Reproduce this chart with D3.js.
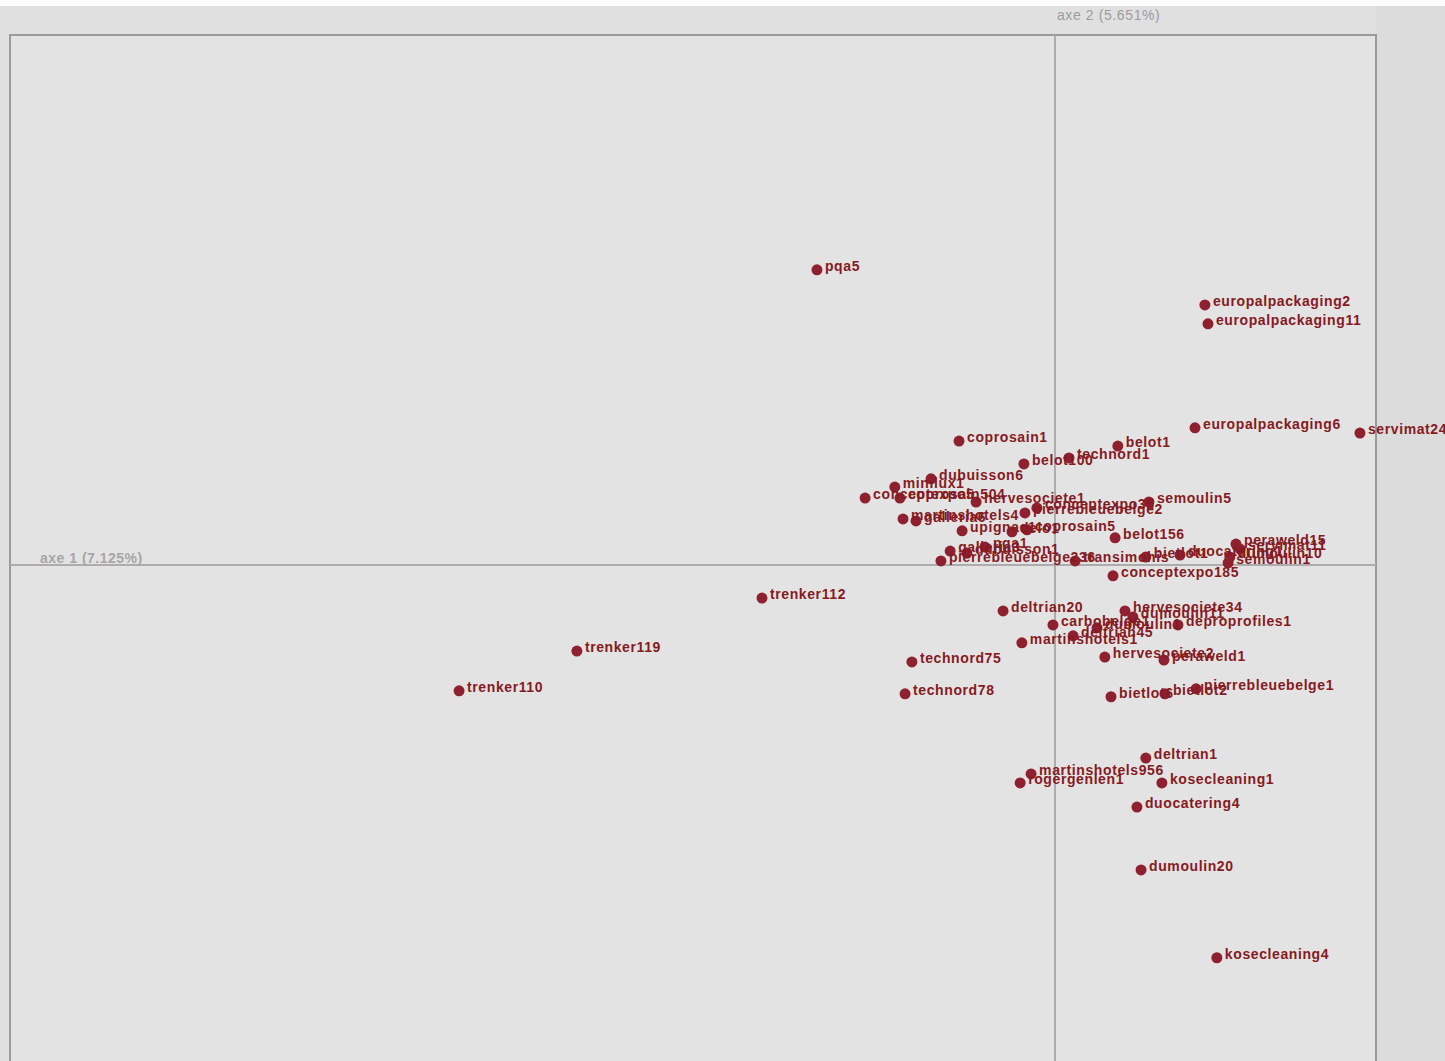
<!DOCTYPE html>
<html>
<head>
<meta charset="utf-8">
<script src="https://cdn.jsdelivr.net/npm/d3@7"></script>
<style>
  body { margin: 0; background: #e2e2e2; overflow: hidden; }
  svg { display: block; }
</style>
</head>
<body>
<svg id="chart" width="1445" height="1061"></svg>
<script>
// Individuals on the first factorial plane
var names = [
  "pqa5", "europalpackaging2", "europalpackaging11", "europalpackaging6", "servimat24",
  "coprosain1", "belot1", "technord1", "belot100", "dubuisson6",
  "minilux1", "conceptexpo5", "coprosain504", "hervesociete1", "martinshotels4",
  "galleria6", "pierrebleuebelge2", "conceptexpo35", "semoulin5", "upignac1",
  "delo1", "coprosain5", "belot156", "pqa1", "galleria3",
  "dubuisson1", "pierrebleuebelge236", "transimohis", "bietlot1", "duocatering1",
  "peraweld15", "servimat11", "dumoulin10", "semoulin1", "conceptexpo185",
  "trenker112", "trenker119", "trenker110", "deltrian20", "hervesociete34",
  "dumoulin11", "carbobelge1", "dumoulin1", "deproprofiles1", "deltrian45",
  "martinshotels1", "hervesociete2", "peraweld1", "technord75", "technord78",
  "bietlot6", "bietlot2", "pierrebleuebelge1", "deltrian1", "martinshotels956",
  "rogergenlen1", "kosecleaning1", "duocatering4", "dumoulin20", "kosecleaning4"
];

var axe1 = [
  -0.697, 0.439, 0.448, 0.410, 0.893,
  -0.281, 0.184, 0.041, -0.091, -0.363,
  -0.469, -0.556, -0.454, -0.231, -0.445,
  -0.407, -0.088, -0.053, 0.275, -0.272,
  -0.126, -0.082, 0.176, -0.205, -0.307,
  -0.258, -0.334, 0.059, 0.266, 0.366,
  0.530, 0.542, 0.512, 0.507, 0.170,
  -0.858, -1.400, -1.745, -0.152, 0.205,
  0.228, -0.006, 0.123, 0.360, 0.053,
  -0.097, 0.146, 0.319, -0.419, -0.439,
  0.164, 0.322, 0.413, 0.266, -0.070,
  -0.102, 0.313, 0.240, 0.252, 0.474
];

var axe2 = [
  0.891, 0.785, 0.728, 0.414, 0.398,
  0.374, 0.359, 0.323, 0.305, 0.260,
  0.235, 0.202, 0.202, 0.190, 0.139,
  0.133, 0.157, 0.172, 0.190, 0.103,
  0.100, 0.106, 0.082, 0.054, 0.042,
  0.036, 0.012, 0.012, 0.024, 0.030,
  0.063, 0.048, 0.024, 0.006, -0.033,
  -0.100, -0.260, -0.380, -0.139, -0.139,
  -0.157, -0.181, -0.190, -0.181, -0.214,
  -0.235, -0.278, -0.287, -0.293, -0.389,
  -0.398, -0.389, -0.374, -0.583, -0.631,
  -0.658, -0.658, -0.731, -0.921, -1.186
];

var axisLabels = ["axe 1 (7.125%)", "axe 2 (5.651%)"];

var svg = d3.select("#chart");
var W = 1445, H = 1061;
var plotLeft = 10, plotRight = 1376, plotTop = 35, plotBottom = 1128;

var x = d3.scaleLinear().domain([-3.06, 0.94]).range([plotLeft, plotRight]);
var y = d3.scaleLinear().domain([-1.7, 1.6]).range([plotBottom, plotTop]);

// Backgrounds
svg.append("rect").attr("width", W).attr("height", H).attr("fill", "#e0e0e0");
svg.append("rect").attr("x", plotRight).attr("y", 6).attr("width", W - plotRight).attr("height", H)
  .attr("fill", "#dcdcdc");
svg.append("rect").attr("width", W).attr("height", 6).attr("fill", "#fbfbfb");
svg.append("rect").attr("x", plotLeft).attr("y", plotTop)
  .attr("width", plotRight - plotLeft).attr("height", plotBottom - plotTop)
  .attr("fill", "#e3e3e3").attr("stroke", "#9a9a9a").attr("stroke-width", 2);

// Axes through origin
svg.append("line")
  .attr("x1", plotLeft).attr("x2", plotRight).attr("y1", y(0)).attr("y2", y(0))
  .attr("stroke", "#acacac").attr("stroke-width", 2);
svg.append("line")
  .attr("x1", x(0)).attr("x2", x(0)).attr("y1", plotTop).attr("y2", plotBottom)
  .attr("stroke", "#acacac").attr("stroke-width", 2);

svg.append("text")
  .attr("x", plotLeft + 30).attr("y", y(0) - 2)
  .attr("font-family", "Liberation Sans, Arial, sans-serif")
  .attr("font-size", 14).attr("font-weight", "bold")
  .attr("letter-spacing", 0.5)
  .attr("fill", "#a6a6a6")
  .text(axisLabels[0]);

svg.append("text")
  .attr("x", x(0) + 2).attr("y", 20)
  .attr("font-family", "Liberation Sans, Arial, sans-serif")
  .attr("font-size", 14)
  .attr("letter-spacing", 0.6)
  .attr("fill", "#9c9c9c")
  .text(axisLabels[1]);

var points = names.map((n, i) => ({ name: n, a1: axe1[i], a2: axe2[i] }));

// Dots
svg.selectAll("circle.pt")
  .data(points)
  .enter().append("circle")
  .attr("class", "pt")
  .attr("cx", d => x(d.a1))
  .attr("cy", d => y(d.a2))
  .attr("r", 5.5)
  .attr("fill", "#8e2030");

// Labels
svg.selectAll("text.lbl")
  .data(points)
  .enter().append("text")
  .attr("class", "lbl")
  .attr("x", d => x(d.a1) + 8)
  .attr("y", d => y(d.a2) + 1)
  .attr("font-family", "Liberation Sans, Arial, sans-serif")
  .attr("font-size", 14)
  .attr("font-weight", "bold")
  .attr("letter-spacing", 0.6)
  .attr("fill", "#861a22")
  .text(d => d.name);
</script>
</body>
</html>
